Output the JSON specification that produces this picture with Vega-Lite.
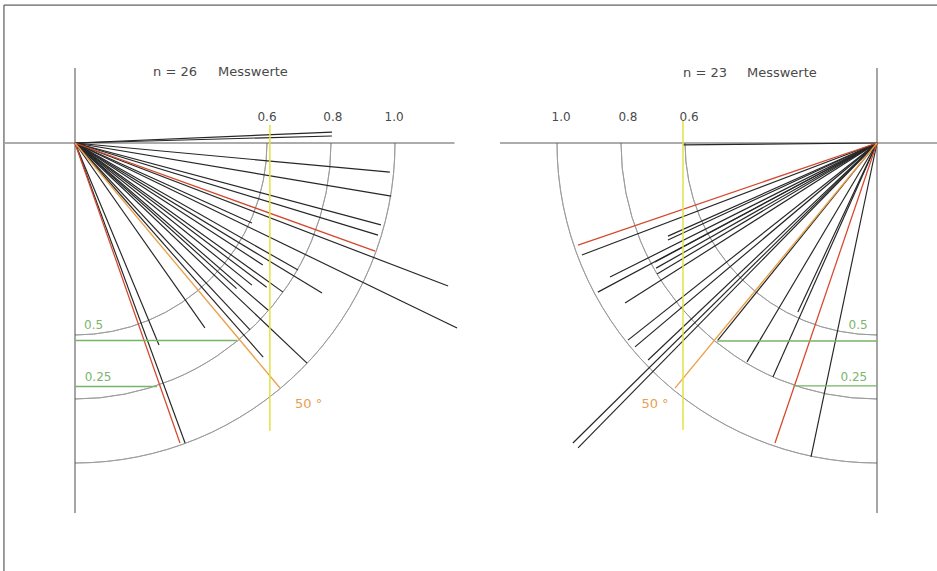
{
  "$schema": "https://vega.github.io/schema/vega-lite/v6.json",
  "width": 937,
  "height": 571,
  "autosize": "none",
  "padding": 0,
  "background": "white",
  "config": {"view": {"stroke": null}},
  "datasets": {
    "segments": [
      {"x": -0.222, "y": 0.431, "x2": 2.7, "y2": 0.431, "kind": "frame"},
      {"x": -0.222, "y": 0.431, "x2": -0.222, "y2": -1.34, "kind": "frame"},
      {"x": -0.219, "y": 0, "x2": 1.186, "y2": 0, "kind": "axis"},
      {"x": 0, "y": 0.234, "x2": 0, "y2": -1.156, "kind": "axis"},
      {"x": 1.328, "y": 0, "x2": 2.7, "y2": 0, "kind": "axis"},
      {"x": 2.50625, "y": 0.234, "x2": 2.50625, "y2": -1.156, "kind": "axis"},

      {"x": 0, "y": 0, "x2": 0.803, "y2": 0.034, "kind": "measure"},
      {"x": 0, "y": 0, "x2": 0.803, "y2": 0.022, "kind": "measure"},
      {"x": 0, "y": 0, "x2": 0.984, "y2": -0.091, "kind": "measure"},
      {"x": 0, "y": 0, "x2": 0.988, "y2": -0.166, "kind": "measure"},
      {"x": 0, "y": 0, "x2": 0.956, "y2": -0.256, "kind": "measure"},
      {"x": 0, "y": 0, "x2": 0.947, "y2": -0.288, "kind": "measure"},
      {"x": 0, "y": 0, "x2": 1.166, "y2": -0.447, "kind": "measure"},
      {"x": 0, "y": 0, "x2": 1.194, "y2": -0.578, "kind": "measure"},
      {"x": 0, "y": 0, "x2": 0.772, "y2": -0.469, "kind": "measure"},
      {"x": 0, "y": 0, "x2": 0.65, "y2": -0.466, "kind": "measure"},
      {"x": 0, "y": 0, "x2": 0.553, "y2": -0.25, "kind": "measure"},
      {"x": 0, "y": 0, "x2": 0.553, "y2": -0.444, "kind": "measure"},
      {"x": 0, "y": 0, "x2": 0.725, "y2": -0.688, "kind": "measure"},
      {"x": 0, "y": 0, "x2": 0.588, "y2": -0.669, "kind": "measure"},
      {"x": 0, "y": 0, "x2": 0.547, "y2": -0.584, "kind": "measure"},
      {"x": 0, "y": 0, "x2": 0.406, "y2": -0.578, "kind": "measure"},
      {"x": 0, "y": 0, "x2": 0.344, "y2": -0.9375, "kind": "measure"},
      {"x": 0, "y": 0, "x2": 0.2625, "y2": -0.631, "kind": "measure"},
      {"x": 0, "y": 0, "x2": 0.697, "y2": -0.397, "kind": "measure"},
      {"x": 0, "y": 0, "x2": 0.603, "y2": -0.522, "kind": "measure"},
      {"x": 0, "y": 0, "x2": 0.587, "y2": -0.381, "kind": "measure"},
      {"x": 0, "y": 0, "x2": 0.599, "y2": -0.451, "kind": "measure"},
      {"x": 0, "y": 0, "x2": 0.505, "y2": -0.455, "kind": "measure"},
      {"x": 0, "y": 0, "x2": 0.938, "y2": -0.338, "kind": "red"},
      {"x": 0, "y": 0, "x2": 0.328, "y2": -0.9375, "kind": "red"},
      {"x": 0, "y": 0, "x2": 0.64, "y2": -0.765, "kind": "orange"},

      {"x": 2.50625, "y": 0, "x2": 1.9, "y2": -0.006, "kind": "measure"},
      {"x": 2.50625, "y": 0, "x2": 1.584, "y2": -0.35, "kind": "measure"},
      {"x": 2.50625, "y": 0, "x2": 1.853, "y2": -0.291, "kind": "measure"},
      {"x": 2.50625, "y": 0, "x2": 1.853, "y2": -0.303, "kind": "measure"},
      {"x": 2.50625, "y": 0, "x2": 1.672, "y2": -0.419, "kind": "measure"},
      {"x": 2.50625, "y": 0, "x2": 1.8125, "y2": -0.372, "kind": "measure"},
      {"x": 2.50625, "y": 0, "x2": 1.816, "y2": -0.391, "kind": "measure"},
      {"x": 2.50625, "y": 0, "x2": 1.819, "y2": -0.409, "kind": "measure"},
      {"x": 2.50625, "y": 0, "x2": 1.634, "y2": -0.466, "kind": "measure"},
      {"x": 2.50625, "y": 0, "x2": 1.719, "y2": -0.5, "kind": "measure"},
      {"x": 2.50625, "y": 0, "x2": 1.728, "y2": -0.616, "kind": "measure"},
      {"x": 2.50625, "y": 0, "x2": 1.75, "y2": -0.637, "kind": "measure"},
      {"x": 2.50625, "y": 0, "x2": 1.791, "y2": -0.678, "kind": "measure"},
      {"x": 2.50625, "y": 0, "x2": 1.556, "y2": -0.9375, "kind": "measure"},
      {"x": 2.50625, "y": 0, "x2": 1.572, "y2": -0.953, "kind": "measure"},
      {"x": 2.50625, "y": 0, "x2": 2.009, "y2": -0.616, "kind": "measure"},
      {"x": 2.50625, "y": 0, "x2": 2.1, "y2": -0.684, "kind": "measure"},
      {"x": 2.50625, "y": 0, "x2": 2.181, "y2": -0.731, "kind": "measure"},
      {"x": 2.50625, "y": 0, "x2": 2.259, "y2": -0.528, "kind": "measure"},
      {"x": 2.50625, "y": 0, "x2": 2.3, "y2": -0.981, "kind": "measure"},
      {"x": 2.50625, "y": 0, "x2": 1.572, "y2": -0.319, "kind": "red"},
      {"x": 2.50625, "y": 0, "x2": 2.1875, "y2": -0.9375, "kind": "red"},
      {"x": 2.50625, "y": 0, "x2": 1.875, "y2": -0.766, "kind": "orange"},

      {"x": 0, "y": -0.617, "x2": 0.506, "y2": -0.617, "kind": "green"},
      {"x": 0, "y": -0.761, "x2": 0.256, "y2": -0.761, "kind": "green"},
      {"x": 2.006, "y": -0.619, "x2": 2.50625, "y2": -0.619, "kind": "green"},
      {"x": 2.244, "y": -0.759, "x2": 2.50625, "y2": -0.759, "kind": "green"},
      {"x": 0.609, "y": 0.056, "x2": 0.609, "y2": -0.9, "kind": "yellow"},
      {"x": 1.9, "y": 0.072, "x2": 1.9, "y2": -0.897, "kind": "yellow"}
    ],
    "arcs": [
      {"cx": 0, "cy": 0, "r": 0.6, "a0": 90, "a1": 180},
      {"cx": 0, "cy": 0, "r": 0.8, "a0": 90, "a1": 180},
      {"cx": 0, "cy": 0, "r": 1.0, "a0": 90, "a1": 180},
      {"cx": 2.50625, "cy": 0, "r": 0.6, "a0": 180, "a1": 270},
      {"cx": 2.50625, "cy": 0, "r": 0.8, "a0": 180, "a1": 270},
      {"cx": 2.50625, "cy": 0, "r": 1.0, "a0": 180, "a1": 270}
    ],
    "labels": [
      {"x": 0.3125, "y": 0.222, "text": "n = 26", "kind": "label", "size": 13},
      {"x": 0.556, "y": 0.222, "text": "Messwerte", "kind": "label", "size": 13},
      {"x": 1.969, "y": 0.219, "text": "n = 23", "kind": "label", "size": 13},
      {"x": 2.209, "y": 0.219, "text": "Messwerte", "kind": "label", "size": 13},
      {"x": 0.6, "y": 0.081, "text": "0.6", "kind": "label", "size": 12},
      {"x": 0.806, "y": 0.081, "text": "0.8", "kind": "label", "size": 12},
      {"x": 0.997, "y": 0.081, "text": "1.0", "kind": "label", "size": 12},
      {"x": 1.519, "y": 0.081, "text": "1.0", "kind": "label", "size": 12},
      {"x": 1.728, "y": 0.081, "text": "0.8", "kind": "label", "size": 12},
      {"x": 1.919, "y": 0.081, "text": "0.6", "kind": "label", "size": 12},
      {"x": 0.058, "y": -0.569, "text": "0.5", "kind": "label_green", "size": 12},
      {"x": 0.072, "y": -0.731, "text": "0.25", "kind": "label_green", "size": 12},
      {"x": 2.447, "y": -0.569, "text": "0.5", "kind": "label_green", "size": 12},
      {"x": 2.434, "y": -0.731, "text": "0.25", "kind": "label_green", "size": 12},
      {"x": 0.73, "y": -0.816, "text": "50 °", "kind": "label_orange", "size": 13},
      {"x": 1.8125, "y": -0.816, "text": "50 °", "kind": "label_orange", "size": 13}
    ]
  },
  "layer": [
    {
      "data": {"name": "arcs"},
      "mark": {"type": "arc", "filled": false, "color": "#9a9a9a", "strokeWidth": 0.9},
      "encoding": {
        "x": {"field": "cx", "type": "quantitative", "scale": {"domain": [-0.234375, 2.69375], "nice": false, "zero": false}, "axis": null},
        "y": {"field": "cy", "type": "quantitative", "scale": {"domain": [-1.3375, 0.446875], "nice": false, "zero": false}, "axis": null},
        "theta": {"field": "a0", "type": "quantitative", "stack": null, "scale": {"domain": [0, 360], "range": [0, 6.283185307179586]}},
        "theta2": {"field": "a1"},
        "radius": {"field": "r", "type": "quantitative", "scale": {"type": "linear", "domain": [0, 1], "range": [0, 320], "zero": true}},
        "radius2": {"field": "r"}
      }
    },
    {
      "data": {"name": "segments"},
      "mark": {"type": "rule"},
      "encoding": {
        "x": {"field": "x", "type": "quantitative"},
        "y": {"field": "y", "type": "quantitative"},
        "x2": {"field": "x2"},
        "y2": {"field": "y2"},
        "color": {"field": "kind", "type": "nominal", "legend": null,
          "scale": {"domain": ["frame", "axis", "measure", "red", "orange", "green", "yellow", "label", "label_green", "label_orange"],
                    "range": ["#3a3a3a", "#5a5a5a", "#262626", "#d4482c", "#eaa04a", "#76b466", "#e2e244", "#4a4a4a", "#7cb56c", "#e8a050"]}},
        "strokeWidth": {"field": "kind", "type": "nominal", "legend": null,
          "scale": {"domain": ["frame", "axis", "measure", "red", "orange", "green", "yellow"],
                    "range": [1, 1.5, 1.2, 1.1, 1.3, 2, 1.5]}}
      }
    },
    {
      "data": {"name": "labels"},
      "mark": {"type": "text", "font": "DejaVu Sans", "baseline": "middle", "align": "center"},
      "encoding": {
        "x": {"field": "x", "type": "quantitative"},
        "y": {"field": "y", "type": "quantitative"},
        "text": {"field": "text"},
        "size": {"field": "size", "type": "quantitative", "scale": null},
        "color": {"field": "kind", "type": "nominal", "legend": null}
      }
    }
  ]
}
